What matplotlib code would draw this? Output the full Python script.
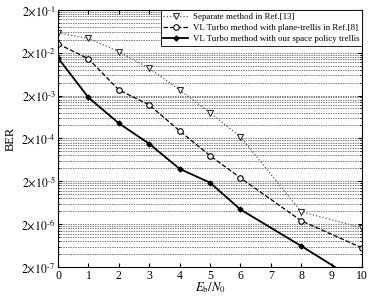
import numpy as np
import matplotlib.pyplot as plt

plt.rcParams['font.family'] = ['Liberation Serif', 'DejaVu Serif']
plt.rcParams['mathtext.fontset'] = 'stix'

x1 = [0, 1, 2, 3, 4, 5, 6, 8, 10]
ber_sep = [5.8e-2, 4.3e-2, 2.1e-2, 8.7e-3, 2.7e-3, 7.9e-4, 2.2e-4, 3.9e-6, 1.65e-6]
x2 = [0, 1, 2, 3, 4, 5, 6, 8, 10]
ber_plane = [3.2e-2, 1.44e-2, 2.7e-3, 1.21e-3, 3.0e-4, 7.9e-5, 2.4e-5, 2.4e-6, 5.6e-7]
x3 = [0, 1, 2, 3, 4, 5, 6, 8, 10]
ber_space = [1.5e-2, 1.8e-3, 4.5e-4, 1.5e-4, 3.9e-5, 1.86e-5, 4.4e-6, 6.2e-7, 8.1e-8]

labels = ["Separate method in Ref.[13]",
          "VL Turbo method with plane-trellis in Ref.[8]",
          "VL Turbo method with our space policy trellis"]

fig = plt.figure(figsize=(3.77, 2.97), dpi=100)
ax = fig.add_axes([0.154, 0.101, 0.806, 0.866])

ax.plot(x1, ber_sep, color='#555555', ls=':', lw=0.9, marker='v', ms=5,
        mfc='white', mec='#333333', mew=0.8, label=labels[0])
ax.plot(x2, ber_plane, color='black', ls='--', lw=0.9, marker='o', ms=4,
        mfc='white', mec='black', mew=0.8, label=labels[1])
ax.plot(x3, ber_space, color='black', ls='-', lw=1.3, marker='D', ms=2.5,
        mfc='black', mec='black', label=labels[2])

ax.set_yscale('log')
ax.set_xlim(0, 10)
ax.set_ylim(2e-7, 2e-1)

exps = np.arange(-7, 0)
ax.set_yticks([2 * 10.0**k for k in exps])
ax.set_yticklabels([r'$2{\times}10^{\text{-}%d}$' % -k for k in exps])
minor = [2 * m * 10.0**(k - 1) for k in exps[1:] for m in range(2, 10)]
ax.set_yticks(minor, minor=True)
ax.set_yticklabels([], minor=True)
ax.set_xticks(range(0, 11))

ax.grid(True, which='both', axis='y', color='#444444', ls=(0, (2, 1.5)), lw=0.5)
ax.tick_params(direction='in', top=True, right=True, labelsize=8.5, length=3, pad=2)
ax.tick_params(which='minor', direction='in', right=True, length=1.5)

ax.set_ylabel('BER', fontsize=9, labelpad=3)
ax.set_xlabel(r'$E_{\rm b}/N_{0}$', fontsize=9, labelpad=-1)

leg = ax.legend(loc='upper right', fontsize=6.4, handlelength=2.8, borderpad=0.3,
                labelspacing=0.35, handletextpad=0.5, fancybox=False, framealpha=1,
                edgecolor='black', borderaxespad=0)
leg.get_frame().set_linewidth(0.6)

fig.savefig('out.png', dpi=100)
